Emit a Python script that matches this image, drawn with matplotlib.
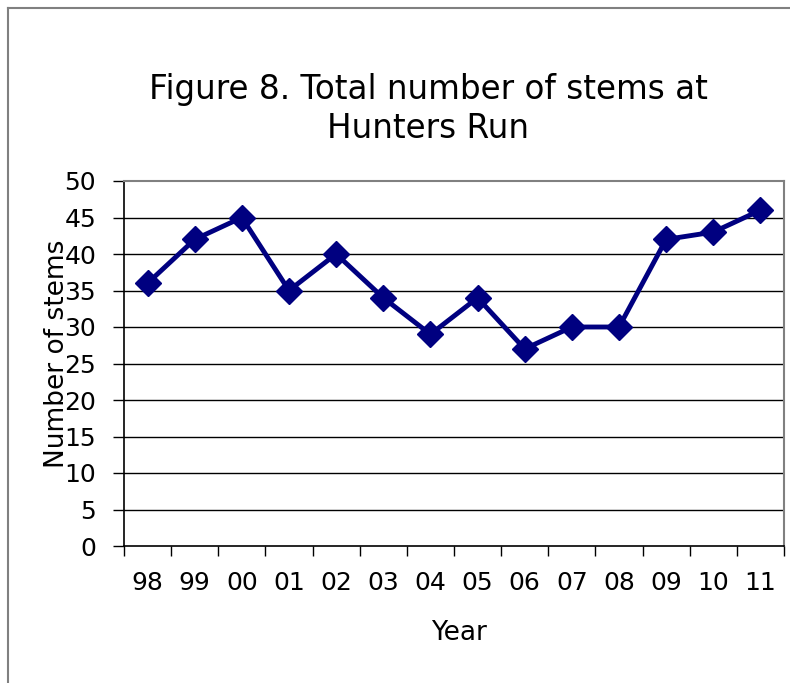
import matplotlib.pyplot as plt
from matplotlib.lines import Line2D

years = ["98", "99", "00", "01", "02", "03", "04", "05", "06", "07", "08", "09", "10", "11"]
stems = [36, 42, 45, 35, 40, 34, 29, 34, 27, 30, 30, 42, 43, 46]
yticks = [0, 5, 10, 15, 20, 25, 30, 35, 40, 45, 50]

W, H = 790, 683
fig = plt.figure(figsize=(W / 100, H / 100), dpi=100)
plt.rcParams["font.family"] = "DejaVu Sans"

# outer chart frame (only left and top are visible in the crop)
fig.add_artist(Line2D([8 / W, 8 / W], [0, 1 - 8 / H], transform=fig.transFigure, color="#808080", lw=1.5))
fig.add_artist(Line2D([8 / W, 1], [1 - 8 / H, 1 - 8 / H], transform=fig.transFigure, color="#808080", lw=1.5))

ax = fig.add_axes([124 / W, 1 - 546 / H, (784 - 124) / W, (546 - 181) / H])

x = list(range(len(years)))
ax.plot(x, stems, color="#000080", lw=3.5, marker="D", markersize=13, zorder=3)

ax.set_xlim(-0.5, len(years) - 0.5)
ax.set_ylim(0, 50)

for v in yticks[1:-1]:
    ax.axhline(v, color="black", lw=1, zorder=1)

ax.set_yticks(yticks)
ax.tick_params(axis="y", direction="out", length=8, width=1, pad=12, labelsize=18)

# ticks between categories, labels at category centres
ax.set_xticks([i - 0.5 for i in range(len(years) + 1)])
ax.set_xticklabels([])
ax.set_xticks(x, minor=True)
ax.set_xticklabels(years, minor=True)
ax.tick_params(axis="x", which="major", direction="out", length=7, width=1)
ax.tick_params(axis="x", which="minor", length=0, pad=18, labelsize=18)

for s in ["top", "right"]:
    ax.spines[s].set_color("#808080")
    ax.spines[s].set_linewidth(1.5)
for s in ["left", "bottom"]:
    ax.spines[s].set_color("black")
    ax.spines[s].set_linewidth(1.2)

ax.set_xlabel("Year", fontsize=19, va="center")
ax.xaxis.set_label_coords((459 - 124) / 660, (546 - 633) / 365)
ax.set_ylabel("Number of stems", fontsize=19, va="center")
ax.yaxis.set_label_coords((57 - 124) / 660, (546 - 354) / 365)

fig.text(428 / W, 1 - 90 / H, "Figure 8. Total number of stems at", ha="center", va="center", fontsize=23.5)
fig.text(428 / W, 1 - 128 / H, "Hunters Run", ha="center", va="center", fontsize=23.5)

plt.savefig("out.png", dpi=100)
